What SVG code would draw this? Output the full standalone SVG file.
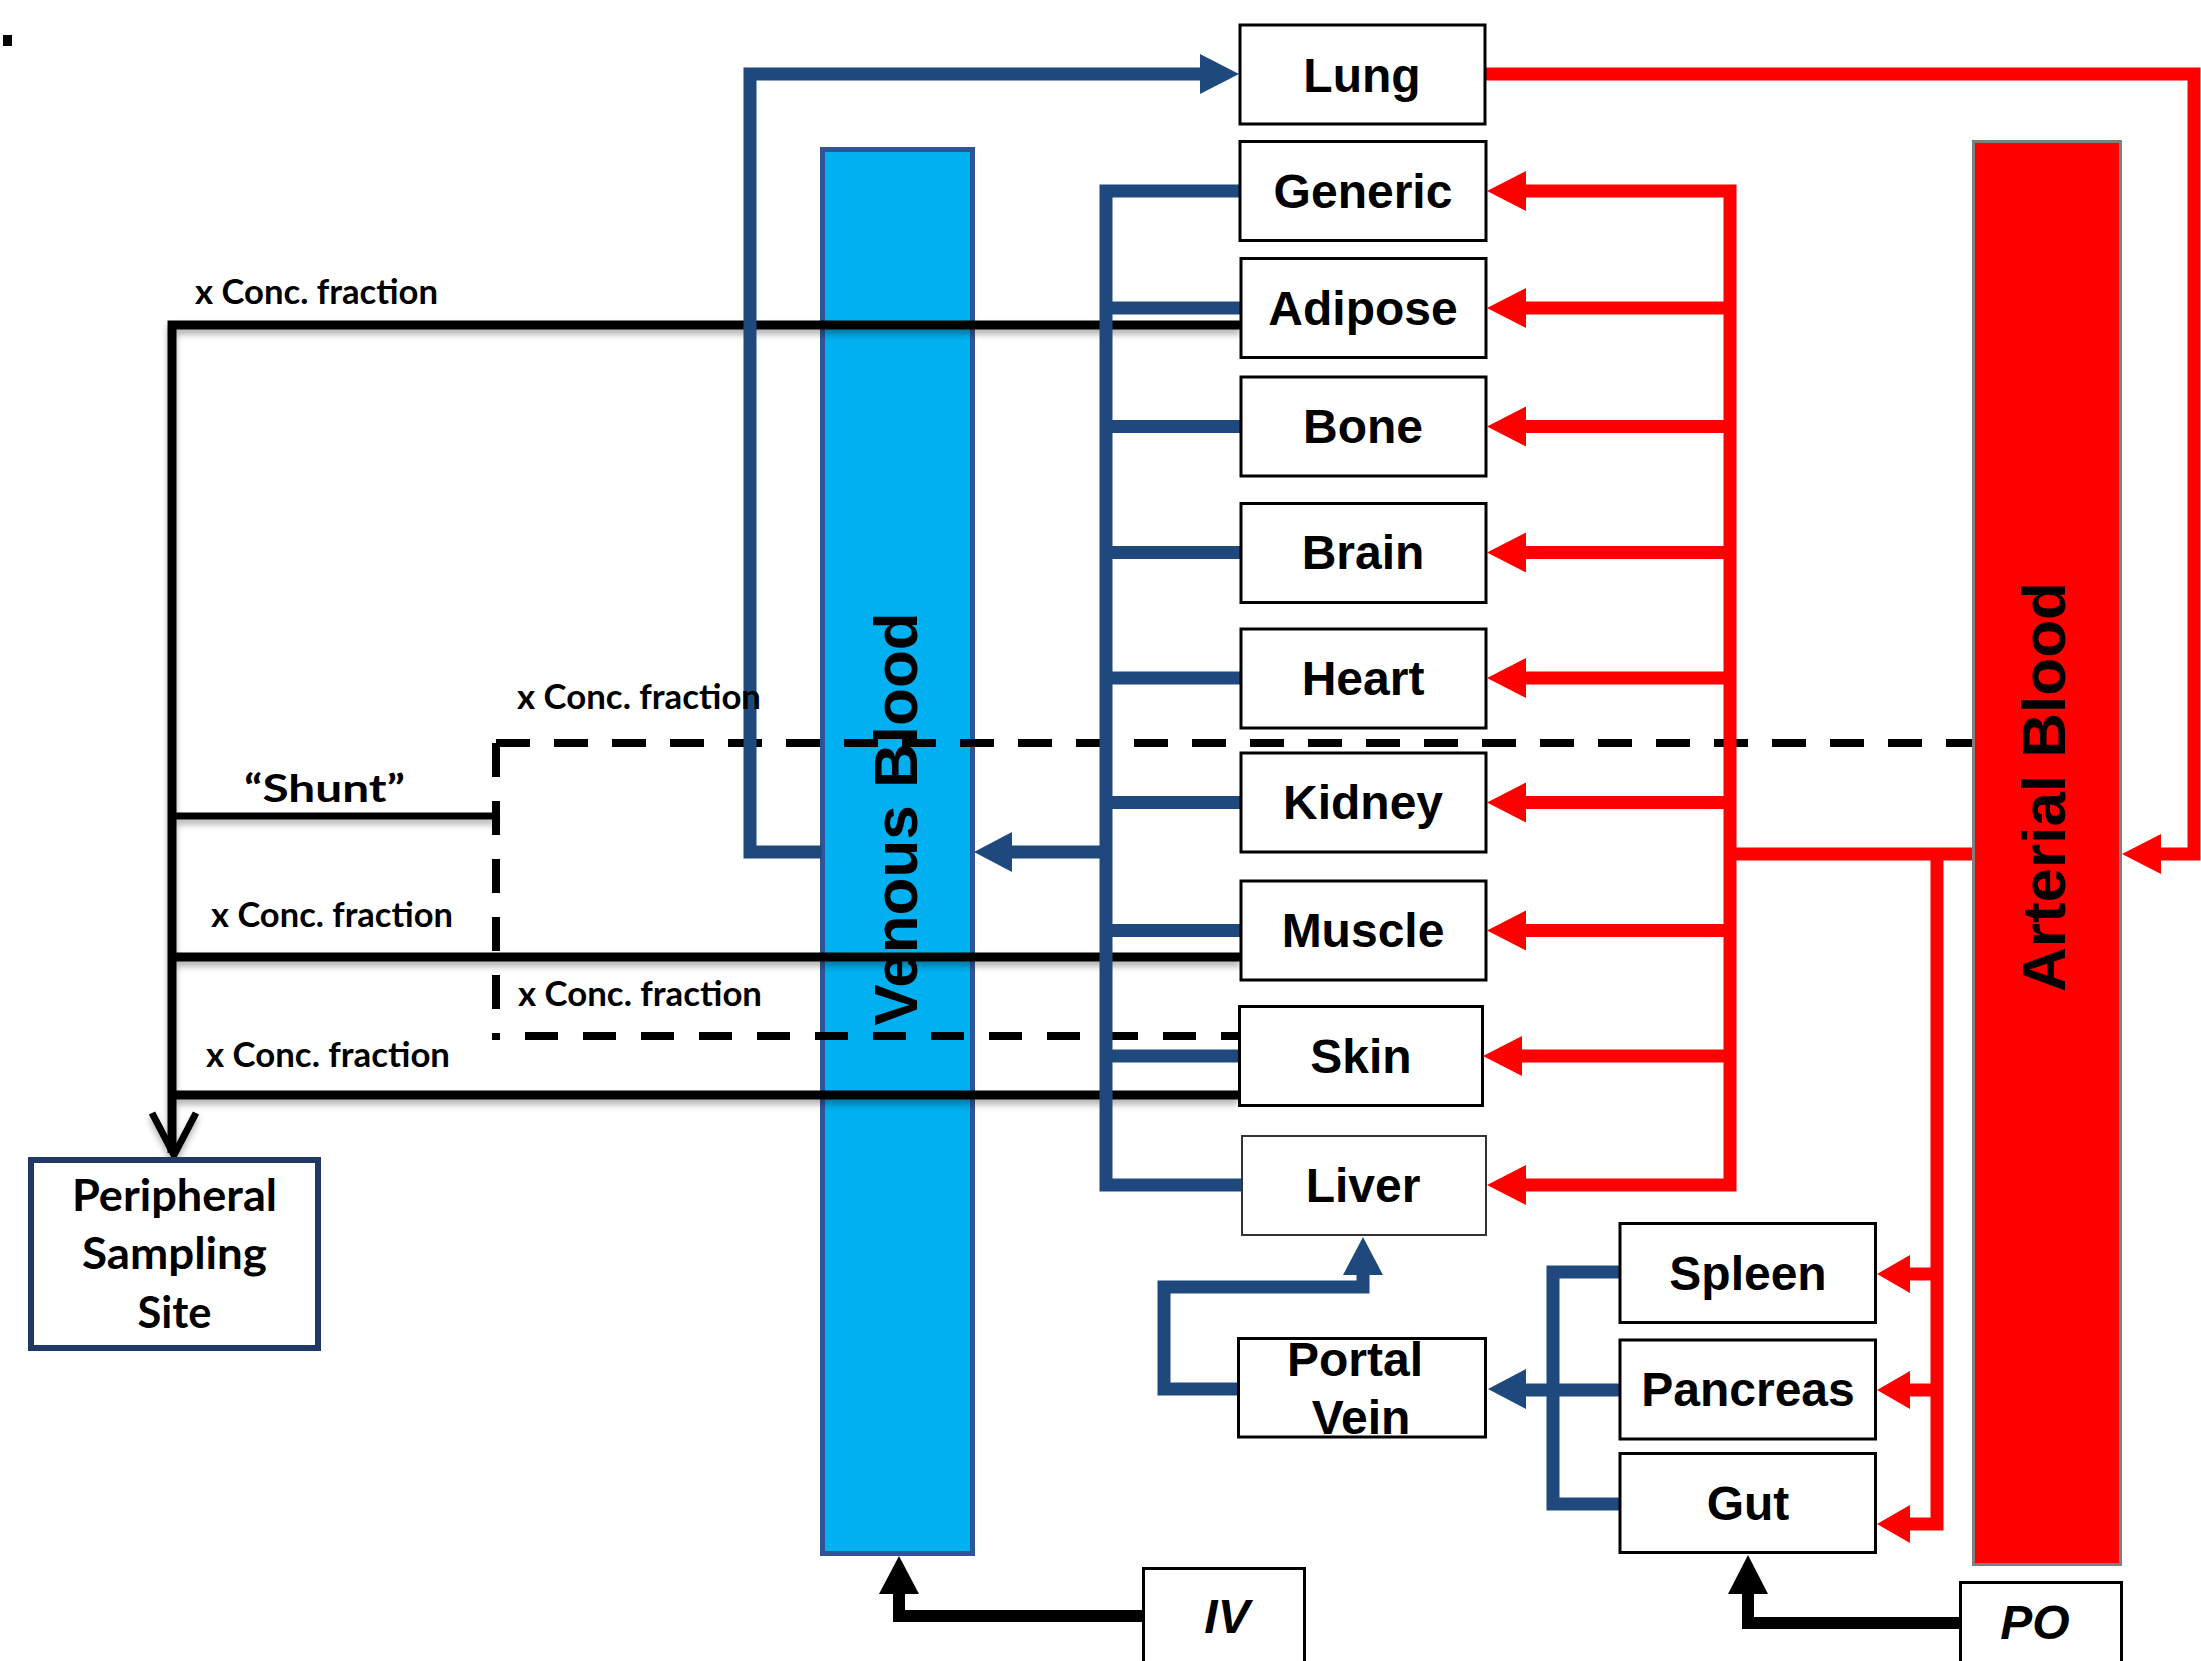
<svg xmlns="http://www.w3.org/2000/svg" width="2201" height="1661" viewBox="0 0 2201 1661">
<style>
.box{fill:#fff;stroke:#000;stroke-width:3}
.lbl{font-family:"Liberation Sans",Arial,sans-serif;font-weight:bold;font-size:48px;text-anchor:middle;fill:#000}
.ital{font-style:italic}
.big{font-size:62px}
.note{font-family:Lato,"Open Sans",sans-serif;font-weight:bold;font-size:35px;fill:#000}
.ps{font-family:Lato,"Open Sans",sans-serif;font-weight:bold;font-size:43px;fill:#000;text-anchor:middle}
.blue{fill:none;stroke:#1F497D;stroke-width:13;stroke-linejoin:miter}
.red{fill:none;stroke:#FF0000;stroke-width:13;stroke-linejoin:miter}
.blk{fill:none;stroke:#000;stroke-width:9;stroke-linejoin:miter}
.dash{fill:none;stroke:#000;stroke-width:8;stroke-dasharray:34 24}
.bh{fill:#1F497D}
.rh{fill:#FF0000}
.kh{fill:#000}
</style>
<defs>
<filter id="shadow" filterUnits="userSpaceOnUse" x="0" y="0" width="2201" height="1661">
<feDropShadow dx="0" dy="5" stdDeviation="3" flood-color="#000" flood-opacity="0.3"/>
</filter>
</defs>
<rect x="0" y="0" width="2201" height="1661" fill="#fff"/>
<rect x="3" y="35" width="9" height="11" fill="#000"/>

<g id="venous-blood">
<rect x="822.5" y="149.5" width="150" height="1404" fill="#00B0F0" stroke="#2F5597" stroke-width="5"/>
</g>
<g id="arterial-blood">
<rect x="1973.5" y="141.5" width="147" height="1423" fill="#FF0000" stroke="#7F7F7F" stroke-width="3"/>
</g>

<g id="connectors">
<g id="sampling-lines" filter="url(#shadow)">
<path class="blk" d="M1240,325 H172 V1153"/>
<path class="blk" d="M172,957 H1240"/>
<path class="blk" d="M172,1095 H1238"/>
<path class="blk" style="stroke-width:7" d="M172,816 H496"/>
<polyline points="152,1113 174,1155 196,1113" fill="none" stroke="#000" stroke-width="7"/>
</g>
<g id="shunt-box">
<path class="dash" d="M496,743 H1972"/>
<path class="dash" d="M496,743 V1040"/>
<path class="dash" style="stroke-dasharray:33 25" d="M525,1036 H1238"/>
</g>
<g id="venous-lines">
<path class="blue" d="M822,852 H750 V74 H1202"/>
<polygon class="bh" points="1239,74 1200,54 1200,94"/>
<path class="blue" d="M1240,191 H1106 V1185 H1241"/>
<path class="blue" d="M1106,308 H1240"/>
<path class="blue" d="M1106,426.5 H1240"/>
<path class="blue" d="M1106,552.5 H1240"/>
<path class="blue" d="M1106,678 H1240"/>
<path class="blue" d="M1106,802.5 H1240"/>
<path class="blue" d="M1106,930.5 H1240"/>
<path class="blue" d="M1106,1056 H1238"/>
<path class="blue" d="M1106,852 H1010"/>
<polygon class="bh" points="974,852 1012,832 1012,872"/>
<path class="blue" d="M1237,1389 H1164 V1287 H1363 V1272"/>
<polygon class="bh" points="1363,1237 1343,1275 1383,1275"/>
<path class="blue" d="M1619,1272 H1553 V1504 H1619"/>
<path class="blue" d="M1619,1390 H1524"/>
<polygon class="bh" points="1488,1389 1526,1369 1526,1409"/>
</g>
<g id="arterial-lines">
<path class="red" d="M1486,74 H2194 V854 H2159"/>
<polygon class="rh" points="2122,854 2161,834 2161,874"/>
<path class="red" d="M1972,854 H1730"/>
<path class="red" d="M1524,191 H1730 V1185 H1524"/>
<path class="red" d="M1730,308 H1524"/>
<path class="red" d="M1730,426.5 H1524"/>
<path class="red" d="M1730,552.5 H1524"/>
<path class="red" d="M1730,678 H1524"/>
<path class="red" d="M1730,802.5 H1524"/>
<path class="red" d="M1730,930.5 H1524"/>
<path class="red" d="M1730,1056 H1520"/>
<polygon class="rh" points="1487,191 1526,171 1526,211"/>
<polygon class="rh" points="1487,308 1526,288 1526,328"/>
<polygon class="rh" points="1487,426.5 1526,406.5 1526,446.5"/>
<polygon class="rh" points="1487,552.5 1526,532.5 1526,572.5"/>
<polygon class="rh" points="1487,678 1526,658 1526,698"/>
<polygon class="rh" points="1487,802.5 1526,782.5 1526,822.5"/>
<polygon class="rh" points="1487,930.5 1526,910.5 1526,950.5"/>
<polygon class="rh" points="1483,1056 1522,1036 1522,1076"/>
<polygon class="rh" points="1487,1185 1526,1165 1526,1205"/>
<path class="red" d="M1937,854 V1524 H1908"/>
<path class="red" d="M1937,1274 H1908"/>
<path class="red" d="M1937,1390 H1908"/>
<polygon class="rh" points="1877,1274 1910,1255 1910,1293"/>
<polygon class="rh" points="1877,1390 1910,1371 1910,1409"/>
<polygon class="rh" points="1877,1524 1910,1505 1910,1543"/>
</g>
<g id="dosing-lines">
<path class="blk" style="stroke-width:12" d="M1143,1616 H899 V1590"/>
<polygon class="kh" points="899,1556 879,1594 919,1594"/>
<path class="blk" style="stroke-width:12" d="M1960,1623 H1748 V1590"/>
<polygon class="kh" points="1748,1555 1728,1594 1768,1594"/>
</g>
</g>

<g id="venous-label"><text class="lbl big" transform="translate(917,819) rotate(-90)">Venous Blood</text></g>
<g id="arterial-label"><text class="lbl big" transform="translate(2065,787) rotate(-90)">Arterial Blood</text></g>

<g id="lung"><rect class="box" x="1240" y="25" width="245" height="99"/><text class="lbl" x="1362" y="92">Lung</text></g>
<g id="generic"><rect class="box" x="1240" y="141.5" width="246" height="99"/><text class="lbl" x="1363" y="208">Generic</text></g>
<g id="adipose"><rect class="box" x="1241" y="258.5" width="245" height="99"/><text class="lbl" x="1363" y="325">Adipose</text></g>
<g id="bone"><rect class="box" x="1241" y="377" width="245" height="99"/><text class="lbl" x="1363" y="443">Bone</text></g>
<g id="brain"><rect class="box" x="1241" y="503.5" width="245" height="99"/><text class="lbl" x="1363" y="569">Brain</text></g>
<g id="heart"><rect class="box" x="1241" y="629" width="245" height="99"/><text class="lbl" x="1363" y="695">Heart</text></g>
<g id="kidney"><rect class="box" x="1241" y="753" width="245" height="99"/><text class="lbl" x="1363" y="819">Kidney</text></g>
<g id="muscle"><rect class="box" x="1241" y="881" width="245" height="99"/><text class="lbl" x="1363" y="947">Muscle</text></g>
<g id="skin"><rect class="box" x="1239.5" y="1006.5" width="243" height="99"/><text class="lbl" x="1361" y="1073">Skin</text></g>
<g id="liver"><rect class="box" style="stroke-width:2;stroke:#333" x="1242" y="1136" width="244" height="99"/><text class="lbl" x="1363" y="1202">Liver</text></g>
<g id="spleen"><rect class="box" x="1620" y="1223.5" width="255.5" height="99"/><text class="lbl" x="1748" y="1290">Spleen</text></g>
<g id="pancreas"><rect class="box" x="1620" y="1340" width="255.5" height="99"/><text class="lbl" x="1748" y="1406">Pancreas</text></g>
<g id="gut"><rect class="box" x="1620" y="1453.5" width="255.5" height="99"/><text class="lbl" x="1748" y="1520">Gut</text></g>
<g id="portal-vein"><rect class="box" x="1238.5" y="1338.5" width="247" height="98.5"/><text class="lbl" x="1355" y="1376">Portal</text><text class="lbl" x="1361" y="1434">Vein</text></g>
<g id="iv"><rect class="box" x="1143.5" y="1568.5" width="161" height="150"/><text class="lbl ital" x="1227" y="1633">IV</text></g>
<g id="po"><rect class="box" x="1960.5" y="1582.5" width="161" height="150"/><text class="lbl ital" x="2035" y="1639">PO</text></g>
<g id="peripheral-sampling-site">
<rect x="31" y="1160" width="287" height="188" fill="#fff" stroke="#1F3864" stroke-width="6"/>
<text class="ps" x="174.5" y="1211" textLength="205" lengthAdjust="spacingAndGlyphs">Peripheral</text>
<text class="ps" x="174.5" y="1269" textLength="185" lengthAdjust="spacingAndGlyphs">Sampling</text>
<text class="ps" x="174.5" y="1328" textLength="74" lengthAdjust="spacingAndGlyphs">Site</text>
</g>

<g id="labels">
<text class="note" x="195" y="304" textLength="243" lengthAdjust="spacingAndGlyphs">x Conc. fraction</text>
<text class="note" x="517" y="709" textLength="244" lengthAdjust="spacingAndGlyphs">x Conc. fraction</text>
<text class="note" x="211" y="927" textLength="242" lengthAdjust="spacingAndGlyphs">x Conc. fraction</text>
<text class="note" x="518" y="1006" textLength="244" lengthAdjust="spacingAndGlyphs">x Conc. fraction</text>
<text class="note" x="206" y="1067" textLength="244" lengthAdjust="spacingAndGlyphs">x Conc. fraction</text>
<text class="note" style="font-size:38px" x="244" y="802" textLength="161" lengthAdjust="spacingAndGlyphs">“Shunt”</text>
</g>
</svg>
